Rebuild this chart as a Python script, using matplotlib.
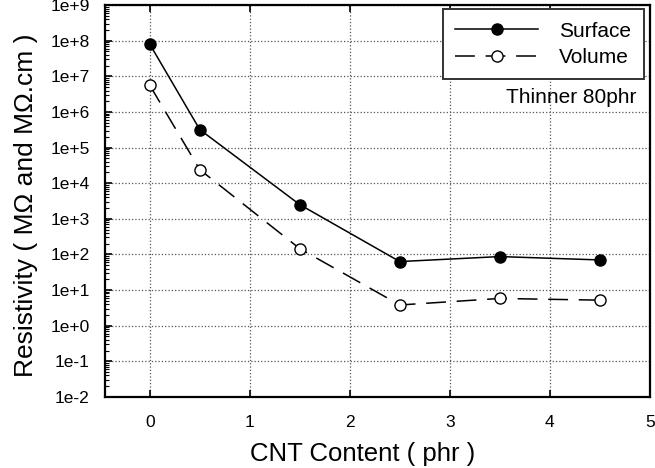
import numpy as np
import matplotlib
matplotlib.use("Agg")
import matplotlib.pyplot as plt
from matplotlib.ticker import LogLocator, FixedLocator, NullFormatter

plt.rcParams['font.family'] = ['Liberation Sans', 'DejaVu Sans']

cnt = [0, 0.5, 1.5, 2.5, 3.5, 4.5]
surface = [8.0e7, 3.2e5, 2.5e3, 63, 87, 70]
volume = [5.6e6, 2.4e4, 1.45e2, 3.8, 5.8, 5.2]
xticks = [0, 1, 2, 3, 4, 5]
ydecades = list(range(-2, 10))
ylabels = ["1e%+d" % d for d in ydecades]

fig = plt.figure(figsize=(6.55, 4.68), dpi=100)
ax = fig.add_axes([0.160, 0.152, 0.832, 0.837])

ax.plot(cnt, surface, '-', color='black', lw=1.1, marker='o', ms=8,
        mfc='black', mec='black', label='Surface')
ax.plot(cnt, volume, color='black', lw=1.1, dashes=(13, 7), marker='o', ms=8,
        mfc='white', mec='black', mew=1.0, label='Volume')

ax.set_yscale('log')
ax.set_xlim(-0.45, 5.0)
ax.set_ylim(1e-2, 1e9)
ax.yaxis.set_major_locator(FixedLocator([10.0**d for d in ydecades]))
ax.set_yticklabels(ylabels)
ax.yaxis.set_minor_locator(LogLocator(base=10, subs=np.arange(2, 10), numticks=20))
ax.yaxis.set_minor_formatter(NullFormatter())
ax.set_xticks(xticks)
ax.tick_params(axis='both', which='major', direction='in', length=5, width=1.2,
               labelsize=12.5, top=True)
ax.tick_params(axis='y', which='major', pad=11)
ax.tick_params(axis='x', which='major', pad=13)
ax.tick_params(axis='y', which='minor', direction='in', length=3, width=0.8)
ax.grid(True, which='major', ls=':', color='#555555', lw=0.9)
for s in ax.spines.values():
    s.set_linewidth(1.6)

ax.set_ylabel('Resistivity ( MΩ and MΩ.cm )', fontsize=19)
ax.yaxis.set_label_coords(-0.122, 0.49)
fig.text(0.553, 0.005, 'CNT Content ( phr )', ha='center', va='bottom', fontsize=18.5)

leg = ax.legend(loc='upper right', fontsize=15, frameon=True, fancybox=False,
                edgecolor='#333333', framealpha=1, handlelength=4.0,
                handletextpad=1.0, borderpad=0.6, labelspacing=0.35,
                borderaxespad=0, bbox_to_anchor=(0.989, 0.99))
leg.get_frame().set_linewidth(1.4)
ax.text(0.976, 0.765, 'Thinner 80phr', transform=ax.transAxes, ha='right',
        va='center', fontsize=15)

fig.savefig('out.png', dpi=100)
